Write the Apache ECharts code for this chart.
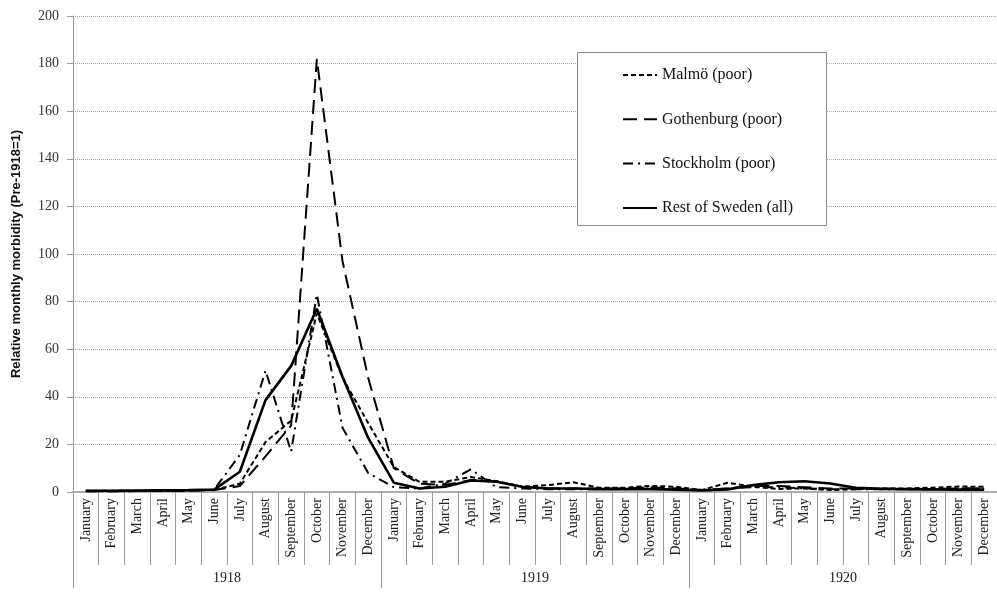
<!DOCTYPE html>
<html>
<head>
<meta charset="utf-8">
<script src="https://cdn.jsdelivr.net/npm/echarts@6/dist/echarts.min.js"></script>
<style>
  html, body { margin: 0; padding: 0; background: #fff; }
  #chart { width: 997px; height: 594px; }
</style>
</head>
<body>
<div id="chart"></div>
<script>
// Month and year labels for the two-level category axis
const monthNames = ['January', 'February', 'March', 'April', 'May', 'June',
  'July', 'August', 'September', 'October', 'November', 'December'];
const years = ['1918', '1919', '1920'];
const months = years.flatMap(() => monthNames);

// Relative monthly morbidity (pre-1918 = 1), January 1918 - December 1920
const malmo = [0.5, 0.5, 0.5, 0.6, 0.7, 0.9, 3.5, 21, 30, 75, 48, 29,
  10.5, 4.3, 4.3, 6.3, 4.6, 2.2, 2.9, 4.1, 1.8, 1.8, 2.6, 2.2,
  0.8, 3.9, 2.2, 1.3, 1.5, 0.8, 1.2, 1.5, 1.5, 1.8, 2.3, 2.2];
const gothenburg = [0.3, 0.3, 0.4, 0.5, 0.6, 0.8, 2.5, 15, 28, 182, 97, 48,
  10, 3.5, 3, 5, 4.5, 2, 1.5, 1.5, 1.5, 1.5, 2, 1.5,
  0.8, 1.5, 2.5, 2.5, 2, 1.5, 1.5, 1.5, 1.2, 1.2, 1.5, 1.5];
const stockholm = [0.3, 0.3, 0.4, 0.5, 0.6, 1.0, 15.6, 51, 17, 83, 27, 8,
  2, 1.5, 3.5, 9.5, 2, 1.5, 1.2, 1.2, 1.2, 1.2, 1.5, 1.5,
  0.8, 1.5, 2, 2, 1.5, 1.2, 1.2, 1.2, 1.2, 1.2, 1.5, 1.5];
const restOfSweden = [0.5, 0.5, 0.6, 0.7, 0.8, 1.0, 8.5, 38.6, 53, 77, 48.4, 22.7,
  3.9, 1.5, 2.2, 4.8, 4.3, 2.2, 1.5, 1.5, 1.2, 1.2, 1.2, 1.0,
  0.6, 1.1, 2.9, 4.1, 4.5, 3.6, 1.8, 1.3, 1.2, 1.1, 1.0, 1.0];
const yTicks = { min: 0, max: 200, step: 20 };

const serif = 'Liberation Serif';
const axisGrey = '#9a9a9a';

function lineSeries(name, data, width, dash) {
  return {
    name, type: 'line', data, xAxisIndex: 0,
    symbol: 'none', smooth: false,
    lineStyle: { color: '#000', width, type: dash, cap: 'butt' },
    itemStyle: { color: '#000' },
    emphasis: { disabled: true }
  };
}

const chart = echarts.init(document.getElementById('chart'));
chart.setOption({
  animation: false,
  backgroundColor: '#fff',
  grid: { left: 73, right: -6, top: 16, bottom: 102 },
  graphic: [{
    type: 'rect', left: 577, top: 52, z: 5,
    shape: { width: 249, height: 173 },
    style: { fill: '#fff', stroke: '#8c8c8c', lineWidth: 1 }
  }],
  legend: {
    orient: 'vertical', left: 617, top: 62, z: 10,
    itemWidth: 34, itemHeight: 16, itemGap: 28.3,
    itemStyle: { opacity: 0 },
    textStyle: { fontFamily: serif, fontSize: 16, color: '#111', lineHeight: 16 },
    data: ['Malmö (poor)', 'Gothenburg (poor)', 'Stockholm (poor)', 'Rest of Sweden (all)']
  },
  xAxis: [{
    type: 'category', data: months, position: 'bottom',
    axisLine: { show: true, lineStyle: { color: '#b0b0b0', width: 2 } },
    axisTick: { show: true, interval: 0, length: 73, lineStyle: { color: axisGrey } },
    axisLabel: { interval: 0, rotate: 90, margin: 6, fontFamily: serif, fontSize: 14, color: '#222' },
    splitLine: { show: false }
  }, {
    type: 'category', data: years, position: 'bottom',
    axisLine: { show: false },
    axisTick: { show: true, interval: 0, length: 96, lineStyle: { color: axisGrey } },
    axisLabel: { interval: 0, margin: 79, fontFamily: serif, fontSize: 14, color: '#222' },
    splitLine: { show: false }
  }],
  yAxis: {
    type: 'value', min: yTicks.min, max: yTicks.max, interval: yTicks.step,
    name: 'Relative monthly morbidity (Pre-1918=1)',
    nameLocation: 'middle', nameGap: 50,
    nameTextStyle: { fontFamily: 'Liberation Sans', fontWeight: 'bold', fontSize: 13, color: '#111' },
    axisLine: { show: true, lineStyle: { color: axisGrey } },
    axisTick: { show: true, length: 6, lineStyle: { color: axisGrey } },
    axisLabel: { margin: 14, fontFamily: serif, fontSize: 14, color: '#333' },
    splitLine: { show: true, lineStyle: { color: '#a8a8a8', type: 'dotted', width: 1 } }
  },
  series: [
    lineSeries('Malmö (poor)', malmo, 2, [5, 3]),
    lineSeries('Gothenburg (poor)', gothenburg, 2, [14, 7]),
    lineSeries('Stockholm (poor)', stockholm, 2, [10, 5, 2, 5]),
    lineSeries('Rest of Sweden (all)', restOfSweden, 2.6, 'solid')
  ]
});
</script>
</body>
</html>
